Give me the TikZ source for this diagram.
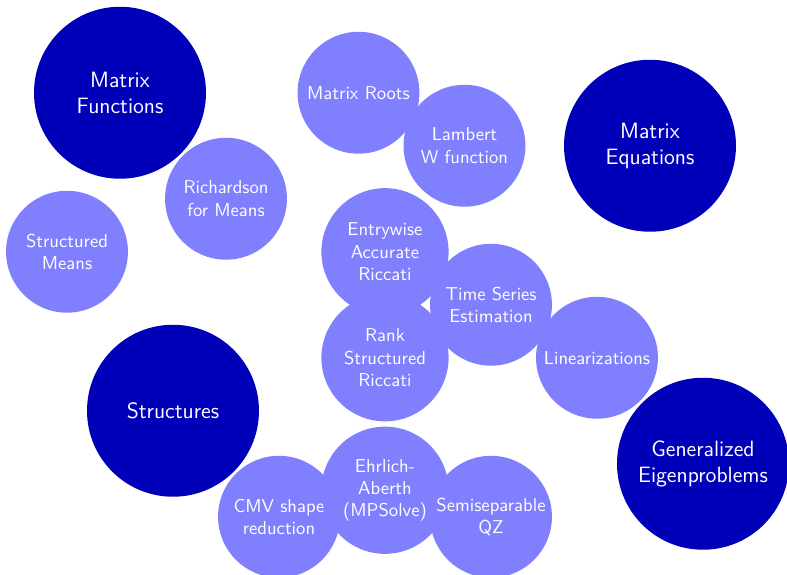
\documentclass[tikz,border=0pt]{standalone}
\usepackage{fontspec}
\definecolor{dkblue}{RGB}{0,0,185}
\definecolor{ltblue}{RGB}{128,128,255}
\tikzset{
  bigc/.style={circle, fill=dkblue, text=white, minimum size=3.245cm, inner sep=0pt, align=center, font=\sffamily\fontsize{11.9}{14}\selectfont},
  smallc/.style={circle, fill=ltblue, text=white, minimum size=2.3cm, inner sep=0pt, align=center, font=\sffamily\fontsize{10}{12}\selectfont},
  smallx/.style={smallc, minimum size=2.4cm}
}
\begin{document}
\begin{tikzpicture}
\useasboundingbox (0,0) rectangle (14.849,-10.849);
\begin{scope}[shift={(2.264,-1.75)}, y=-1cm]
  \node[bigc] (mf) at (0,0) {Matrix\\Functions};
  \node[bigc] (me) at (10,1) {Matrix\\Equations};
  \node[bigc] (st) at (1,6) {Structures};
  \node[bigc] (ge) at (11,7) {Generalized\\Eigenproblems};
  \node[smallc] (mr) at (4.5,0) {Matrix Roots};
  \node[smallc] (lw) at (6.5,1) {Lambert\\W function};
  \node[smallc] (rm) at (2,2) {Richardson\\for Means};
  \node[smallc] (sm) at (-1,3) {Structured\\Means};
  \node[smallx] (ea) at (5,3) {Entrywise\\Accurate\\Riccati};
  \node[smallx] (rs) at (5,5) {Rank\\Structured\\Riccati};
  \node[smallc] (ts) at (7,4) {Time Series\\Estimation};
  \node[smallc] (li) at (9,5) {Linearizations};
  \node[smallc] (cm) at (3,8) {CMV shape\\reduction};
  \node[smallx] (eh) at (5,7.5) {Ehrlich-\\Aberth\\(MPSolve)};
  \node[smallc] (sq) at (7,8) {Semiseparable\\QZ};
\end{scope}
\end{tikzpicture}
\end{document}
